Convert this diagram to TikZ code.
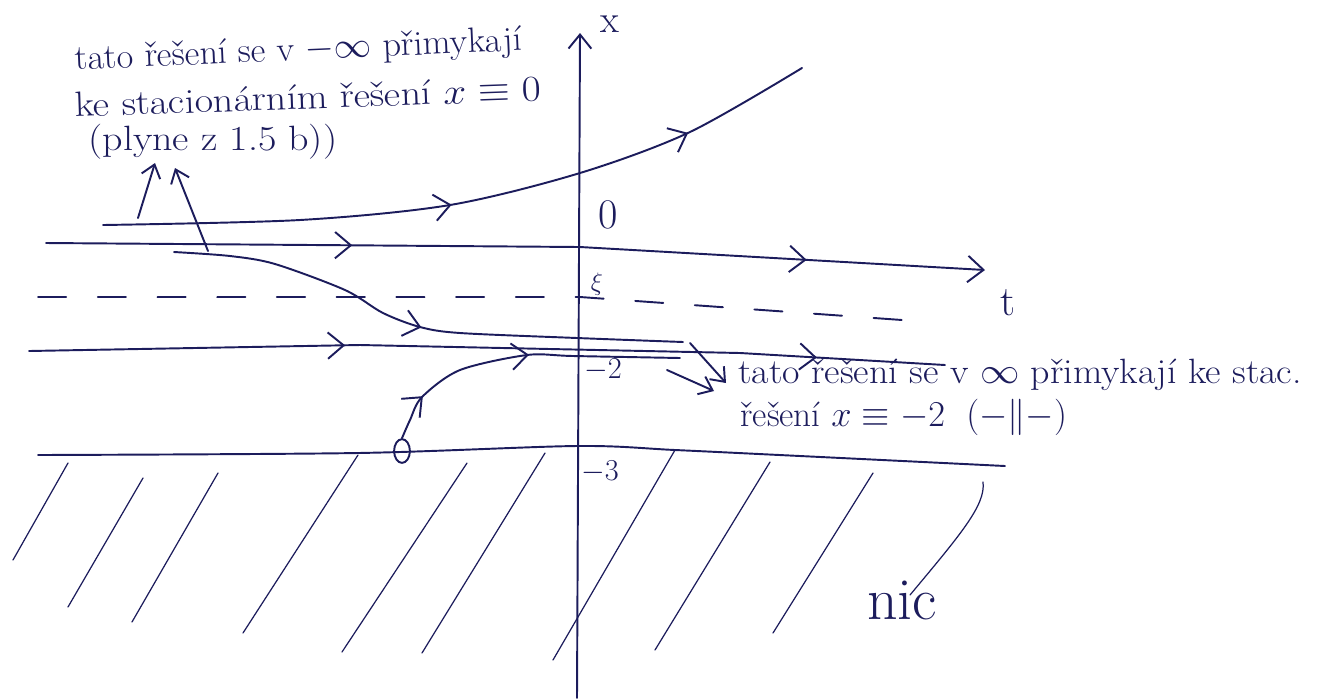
\documentclass[tikz,border=0pt]{standalone}
\usepackage{fontspec}
\usetikzlibrary{arrows.meta,decorations.markings,shapes.geometric}
\definecolor{ink}{RGB}{28,28,92}
\newcommand\chv{\arrow{Straight Barb[length=9pt,width=15pt]}}
\tikzset{
  curve/.style={draw=ink, line width=1.1pt, line cap=round, line join=round},
  hatch/.style={draw=ink, line width=0.7pt, line cap=round},
  onechev/.style={postaction={decorate,decoration={markings,mark=at position #1 with {\chv}}}},
  twochev/.style 2 args={postaction={decorate,decoration={markings,
      mark=at position #1 with {\chv},mark=at position #2 with {\chv}}}},
  pointer/.style={draw=ink, line width=1.1pt, line cap=round, -{Straight Barb[length=7pt,width=11pt]}},
  lbl/.style={text=ink, inner sep=0pt, font=\fontsize{20}{17}\selectfont},
  axlbl/.style={text=ink, inner sep=0pt},
}
\begin{document}
\begin{tikzpicture}[x=0.02cm,y=-0.02cm]
\useasboundingbox (0,0) rectangle (1326,698);
% x axis (vertical)
\coordinate (axbot) at (577,698);
\coordinate (axtop) at (580,33);
\draw[curve, -{Straight Barb[length=8pt,width=13pt]}] (axbot) -- (axtop);
\node[axlbl, font=\fontsize{22}{24}\selectfont] (xl) at (610,24) {x};
% top curve
\draw[curve, twochev={0.48}{0.82}] plot[smooth] coordinates {(103,225) (300,220) (450,205) (580,173) (690,132) (802,68)};
\node[axlbl, font=\fontsize{24}{26}\selectfont] (zero) at (608,215) {0};
% t axis
\coordinate (tstart) at (46,243);
\coordinate (tend) at (985,270);
\draw[curve, twochev={0.326}{0.81}, -{Straight Barb[length=9pt,width=15pt]}] (tstart) -- (580,247) -- (tend);
\node[axlbl, font=\fontsize{24}{26}\selectfont] (tl) at (1008,303) {t};
% dashed line xi
\draw[curve, dash pattern=on 16pt off 18pt] (38,297) -- (580,297) -- (930,322);
\node[axlbl, font=\fontsize{14}{16}\selectfont] (xi) at (597,284) {$\xi$};
% separatrix-like curve
\draw[curve, onechev={0.5}] plot[smooth] coordinates {(174,252) (230,256) (275,264) (345,290) (383,313) (420,327) (460,333) (577,338) (683,342)};
% line near -2
\draw[curve, twochev={0.345}{0.86}] (29,351) -- (360,345) -- (740,353) -- (945,365);
\node[axlbl, font=\fontsize{17}{19}\selectfont] (m2) at (603,370) {$-2$};
% curve from the circle
\node[draw=ink, line width=1.1pt, ellipse, minimum width=9pt, minimum height=13.5pt, inner sep=0pt] (circ) at (402,451) {};
\draw[curve, twochev={0.15}{0.52}] plot[smooth] coordinates {(circ.north) (410,420) (422,397) (460,370) (527,355) (573,356) (680,358)};
% lower bound line
\draw[curve] plot[smooth] coordinates {(38,455) (358,453) (577,446) (675,450) (800,456) (1005,466)};
\node[axlbl, font=\fontsize{17}{19}\selectfont] (m3) at (600,472) {$-3$};
% hatching
\draw[hatch] (68,463) -- (13,560);
\draw[hatch] (143,478) -- (68,607);
\draw[hatch] (218,473) -- (132,622);
\draw[hatch] (358,455) -- (243,633);
\draw[hatch] (467,463) -- (342,652);
\draw[hatch] (545,453) -- (422,653);
\draw[hatch] (675,450) -- (553,660);
\draw[hatch] (770,462) -- (655,650);
\draw[hatch] (873,473) -- (773,633);
\draw[hatch] (983,482) .. controls (986,505) and (960,535) .. (910,595);
\node[axlbl, font=\fontsize{34}{36}\selectfont] (nic) at (902,600) {nic};
% top-left annotation
\node[lbl, anchor=base west, rotate=2.5] (a1) at (75,70) {\scalebox{1.03}[1]{tato řešení se v $-\infty$ přimykají}};
\node[lbl, anchor=base west, rotate=2] (a2) at (75,117) {\scalebox{1.14}[1]{ke stacionárním řešení $x\equiv 0$}};
\node[lbl, anchor=base west] (a3) at (88,150) {\scalebox{1.14}[1]{(plyne z 1.5 b))}};
\coordinate (p1s) at (138,218);
\coordinate (p1e) at (155,163);
\coordinate (p2s) at (208,251);
\coordinate (p2e) at (175,168);
\draw[pointer] (p1s) -- (p1e);
\draw[pointer] (p2s) -- (p2e);
% right annotation
\node[lbl, anchor=base west] (b1) at (738,383)
  {\scalebox{1.08}[1]{tato řešení se v $\infty$ přimykají ke stac.}};
\node[lbl, anchor=base west] (b2) at (740,426)
  {řešení $x\equiv -2$ \ $(-\|-)$};
\coordinate (q1s) at (690,343);
\coordinate (q1e) at (726,383);
\coordinate (q2s) at (667,370);
\coordinate (q2e) at (714,391);
\draw[pointer] (q1s) -- (q1e);
\draw[pointer] (q2s) -- (q2e);
\end{tikzpicture}
\end{document}
